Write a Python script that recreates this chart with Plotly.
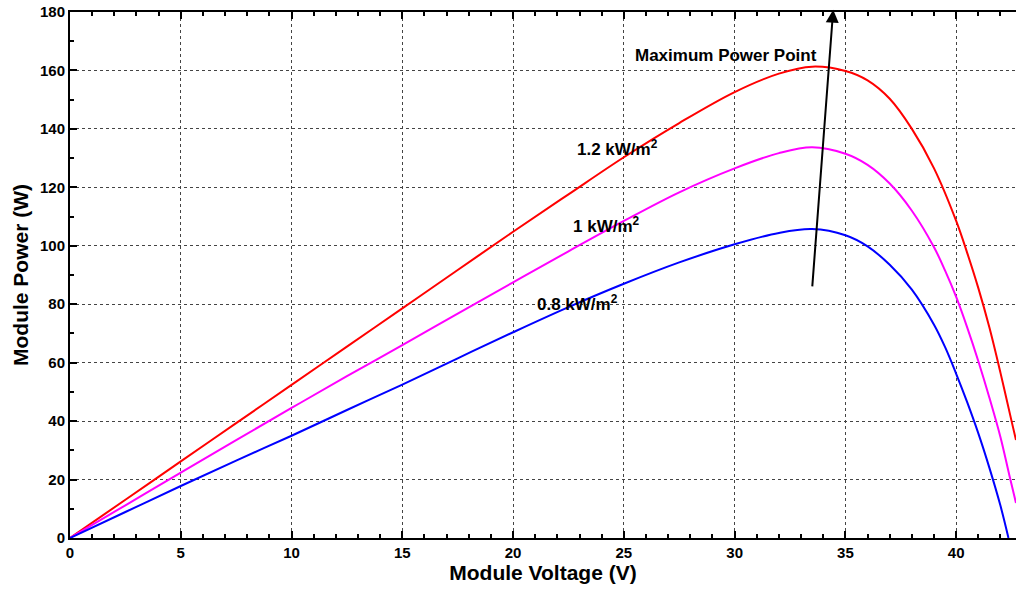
import plotly.graph_objects as go

# P-V characteristics of the PV module at three irradiance levels
v_12 = [0, 2.5, 5, 7.5, 10, 12.5, 15, 17.5, 20, 22.5, 25, 27.5, 30, 32, 33.5,
        35, 36, 37, 38, 39, 40, 40.5, 41, 41.5, 42, 42.5, 42.7]
p_12 = [0, 13.1, 26.2, 39.3, 52.4, 65.5, 78.6, 91.7, 104.8, 117.6, 130.3, 142,
        152.6, 158.9, 161.3, 159.8, 156.6, 150.3, 140, 126.5, 108.5, 97.5, 85.5,
        72, 56.5, 40, 33.5]

v_10 = [0, 2.5, 5, 7.5, 10, 12.5, 15, 17.5, 20, 22.5, 25, 27.5, 30, 32, 33.5,
        35, 36, 37, 38, 39, 39.5, 40, 40.5, 41, 41.5, 42, 42.4, 42.7]
p_10 = [0, 11.2, 22.4, 33.5, 44.5, 55.4, 66, 76.8, 87.5, 98.1, 108.5, 118.3,
        126.5, 131.7, 133.7, 131.5, 127.7, 121.3, 112, 99.5, 91.5, 82.5, 72,
        60.5, 48, 34.5, 21.5, 12]

v_08 = [0, 2.5, 5, 7.5, 10, 12.5, 15, 17.5, 20, 22.5, 25, 27.5, 30, 32, 33.5,
        35, 36, 37, 38, 39, 39.5, 40, 40.5, 41, 41.5, 42, 42.36]
p_08 = [0, 8.9, 17.8, 26.5, 35, 43.8, 52.5, 61.5, 70.4, 79, 87, 94.3, 100.5,
        104.4, 105.7, 103.6, 99.8, 93.5, 85, 73, 65.3, 56.2, 46.4, 35.8, 24,
        11, 0]

series = [
    (v_12, p_12, "#FF0000", "1.2 kW/m2"),
    (v_10, p_10, "#FF00FF", "1 kW/m2"),
    (v_08, p_08, "#0000FF", "0.8 kW/m2"),
]

# Curve labels: (text, voltage, power)
labels = [
    ("1.2 kW/m<sup>2</sup>", 24.7, 133.5),
    ("1 kW/m<sup>2</sup>", 24.2, 107.0),
    ("0.8 kW/m<sup>2</sup>", 22.9, 80.5),
]

# Arrow through the maximum power points
arrow_tail = (33.5, 85.6)
arrow_head = (34.45, 180.8)
mpp_text = ("Maximum Power Point", 29.6, 165.0)

x_ticks = [0, 5, 10, 15, 20, 25, 30, 35, 40]
y_ticks = [0, 20, 40, 60, 80, 100, 120, 140, 160, 180]

FONT = "Liberation Sans, Arial, sans-serif"

fig = go.Figure()
for v, p, color, name in series:
    fig.add_trace(go.Scatter(
        x=v, y=p, mode="lines", name=name,
        line=dict(color=color, width=2, shape="spline", smoothing=1.0),
        showlegend=False,
    ))

for text, xv, yv in labels:
    fig.add_annotation(x=xv, y=yv, text=text, showarrow=False,
                       font=dict(family=FONT, size=17, color="black", weight="bold"))

fig.add_annotation(x=mpp_text[1], y=mpp_text[2], text=mpp_text[0], showarrow=False,
                   font=dict(family=FONT, size=17, color="black", weight="bold"))

fig.add_annotation(
    x=arrow_head[0], y=arrow_head[1], ax=arrow_tail[0], ay=arrow_tail[1],
    xref="x", yref="y", axref="x", ayref="y",
    text="", showarrow=True, arrowhead=2, arrowsize=1.3, arrowwidth=2,
    arrowcolor="black",
)

axis_common = dict(
    showline=True, linecolor="black", linewidth=2,
    ticks="inside", ticklen=7, tickwidth=1.5, tickcolor="black",
    showgrid=True, gridcolor="#444444", griddash="dot", gridwidth=1,
    zeroline=False,
    tickfont=dict(family=FONT, size=15, color="black", weight="bold"),
)

fig.update_xaxes(
    range=[0, 42.7], tickvals=x_ticks, mirror="ticks",
    minor=dict(dtick=1, ticks="inside", ticklen=4, tickcolor="black", showgrid=False),
    title=dict(text="Module Voltage (V)", standoff=5,
               font=dict(family=FONT, size=21, color="black", weight="bold")),
    **axis_common,
)
fig.update_yaxes(
    range=[0, 180], tickvals=y_ticks,
    minor=dict(dtick=10, ticks="inside", ticklen=4, tickcolor="black", showgrid=False),
    title=dict(text="Module Power (W)", standoff=6,
               font=dict(family=FONT, size=21, color="black", weight="bold")),
    **axis_common,
)

fig.update_layout(
    width=1016, height=590,
    margin=dict(l=70, r=0, t=12, b=52),
    plot_bgcolor="white", paper_bgcolor="white",
)

fig.write_html("out.html")
